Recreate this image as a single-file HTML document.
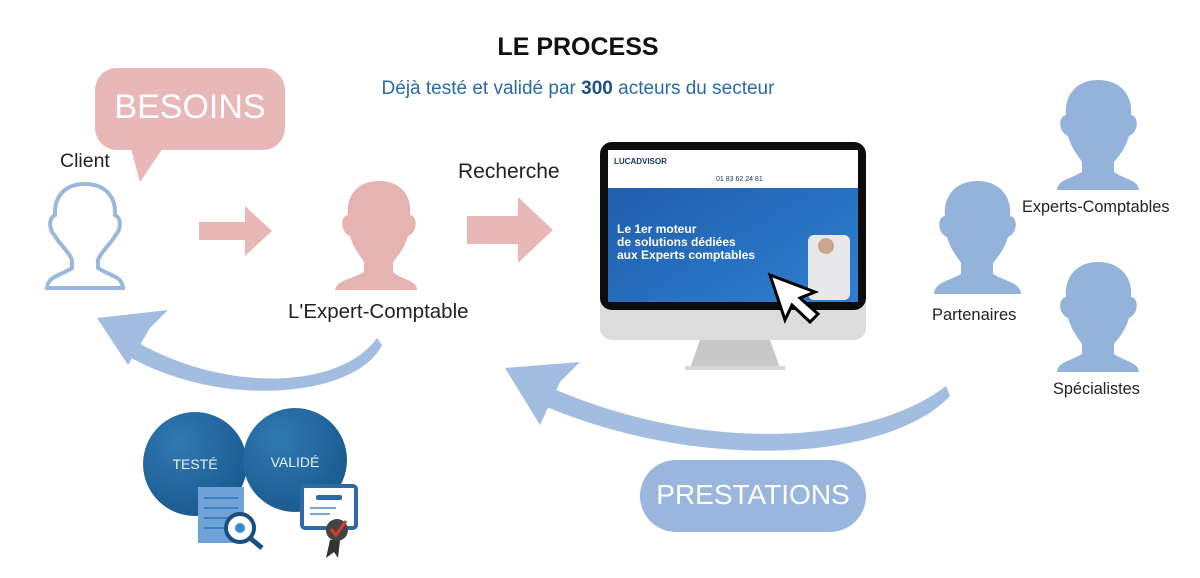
<!DOCTYPE html>
<html><head><meta charset="utf-8"><style>
body{margin:0;width:1200px;height:578px;background:#fff;position:relative;overflow:hidden;font-family:"Liberation Sans",sans-serif}
.t{position:absolute;white-space:nowrap}
</style></head><body>
<svg width="1200" height="578" style="position:absolute;left:0;top:0">
<defs>
<radialGradient id="g" cx="35%" cy="30%" r="75%"><stop offset="0" stop-color="#2f79b2"/><stop offset="1" stop-color="#1a5a8e"/></radialGradient>
<linearGradient id="scr" x1="0" y1="0" x2="1" y2="1"><stop offset="0" stop-color="#1d5aa8"/><stop offset="1" stop-color="#2f7fd0"/></linearGradient>
</defs>
<rect x="95" y="68" width="190" height="82" rx="22" fill="#e8b7b7"/>
<polygon points="130,145 165,145 140,182" fill="#e8b7b7"/>
<path d="M85,184 C62,184 54,200 55,215 C49,218 48,228 55,236 C60,245 68,250 72,260 L72,268 C60,276 48,276 47,288 L123,288 C122,276 110,276 98,268 L98,260 C102,250 110,245 115,236 C122,228 121,218 115,215 C116,200 108,184 85,184Z" fill="none" stroke="#9bb7dc" stroke-width="4"/>
<polygon points="199,222 245,222 245,206 272,231 245,256 245,240 199,240" fill="#e8b7b7"/>
<polygon points="467,216 518,216 518,197 553,230 518,263 518,244 467,244" fill="#e8b7b7"/>
<path d="M379,181 C357,181 346,196 348,215 C340,216 340,232 350,236 C354,250 362,258 364,262 L364,272 C350,280 337,280 335,290 L417,290 C417,280 402,280 393,272 L393,262 C396,258 404,250 408,236 C418,232 418,216 410,215 C412,196 401,181 379,181Z" fill="#e6b3b3"/>
<g fill="#94b3db">
<path d="M977,181 C955,181 943,197 945,216 C937,217 937,233 947,237 C951,251 959,259 961,263 L961,274 C947,282 935,282 934,294 L1021,294 C1020,282 1006,282 993,274 L993,263 C996,259 1004,251 1008,237 C1018,233 1018,217 1010,216 C1012,197 1000,181 977,181Z"/>
<path d="M1098,80 C1076,80 1064,96 1066,115 C1058,116 1058,132 1068,136 C1072,150 1080,158 1082,162 L1082,172 C1068,180 1058,180 1057,190 L1139,190 C1138,180 1126,180 1114,172 L1114,162 C1117,158 1125,150 1129,136 C1139,132 1139,116 1131,115 C1133,96 1121,80 1098,80Z"/>
<path d="M1098,262 C1076,262 1064,278 1066,297 C1058,298 1058,314 1068,318 C1072,332 1080,340 1082,344 L1082,354 C1068,362 1058,362 1057,372 L1139,372 C1138,362 1126,362 1114,354 L1114,344 C1117,340 1125,332 1129,318 C1139,314 1139,298 1131,297 C1133,278 1121,262 1098,262Z"/>
</g>
<path d="M377,338 C340,390 220,395 125,335 L118,350 C210,410 355,400 382,345Z" fill="#a3bde0"/>
<polygon points="97,318 168,310 150,328 128,365" fill="#a3bde0"/>
<path d="M946,386 C870,445 700,455 545,385 L535,402 C700,475 890,460 950,396Z" fill="#a3bde0"/>
<polygon points="505,368 580,362 560,382 540,425" fill="#a3bde0"/>
<rect x="640" y="460" width="226" height="72" rx="36" fill="#9bb6dc"/>
<rect x="600" y="142" width="266" height="198" rx="12" fill="#dcdcdc"/>
<rect x="600" y="142" width="266" height="168" rx="12" fill="#0c0c0c"/>
<rect x="608" y="150" width="250" height="152" fill="url(#scr)"/>
<rect x="608" y="150" width="250" height="38" fill="#fff"/>
<polygon points="700,340 770,340 780,368 690,368" fill="#c8c8c8"/>
<rect x="685" y="366" width="100" height="4" fill="#d8d8d8"/>
<rect x="808" y="235" width="42" height="65" rx="6" fill="#e8e8ea"/>
<circle cx="826" cy="246" r="8" fill="#c9a68a"/>
<polygon points="770,275 785,320 792,305 810,322 818,314 800,298 815,292" fill="#fff" stroke="#000" stroke-width="3"/>
<circle cx="195" cy="464" r="52" fill="url(#g)"/>
<circle cx="295" cy="460" r="52" fill="url(#g)"/>
<rect x="198" y="487" width="46" height="56" fill="#6fa3d8"/>
<g stroke="#3d7fc0" stroke-width="2"><line x1="204" y1="498" x2="238" y2="498"/><line x1="204" y1="508" x2="238" y2="508"/><line x1="204" y1="518" x2="238" y2="518"/><line x1="204" y1="528" x2="238" y2="528"/></g>
<circle cx="240" cy="528" r="14" fill="#fff" stroke="#1a4f80" stroke-width="4"/>
<circle cx="240" cy="528" r="5" fill="#3a8ad0"/>
<line x1="250" y1="538" x2="262" y2="548" stroke="#1a4f80" stroke-width="5"/>
<rect x="302" y="486" width="54" height="42" rx="3" fill="#fff" stroke="#2e6aa6" stroke-width="4"/>
<rect x="316" y="495" width="26" height="5" rx="2" fill="#2e6aa6"/>
<line x1="310" y1="508" x2="336" y2="508" stroke="#7aa8d6" stroke-width="2"/>
<line x1="310" y1="514" x2="330" y2="514" stroke="#7aa8d6" stroke-width="2"/>
<polygon points="330,540 326,558 334,552 338,558 340,540" fill="#333"/>
<circle cx="337" cy="530" r="11" fill="#444"/>
<path d="M331,529 L336,535 L346,521" stroke="#e03a2a" stroke-width="3" fill="none"/>
</svg>
<div class="t" style="left:0;width:1156px;text-align:center;top:33px;font-size:25px;font-weight:bold;color:#111">LE PROCESS</div>
<div class="t" style="left:0;width:1156px;text-align:center;top:78px;font-size:19px;color:#2a6aa5">Déjà testé et validé par <b style="color:#1d4f86">300</b> acteurs du secteur</div>
<div class="t" style="left:95px;width:190px;text-align:center;top:88px;font-size:34px;color:#fff">BESOINS</div>
<div class="t" style="left:60px;top:150px;font-size:19.5px;color:#222">Client</div>
<div class="t" style="left:288px;top:300px;font-size:20.5px;color:#222">L'Expert-Comptable</div>
<div class="t" style="left:458px;top:160px;font-size:21px;color:#222">Recherche</div>
<div class="t" style="left:1022px;top:198px;font-size:16.3px;color:#222">Experts-Comptables</div>
<div class="t" style="left:932px;top:306px;font-size:16.5px;color:#222">Partenaires</div>
<div class="t" style="left:1053px;top:380px;font-size:16.3px;color:#222">Spécialistes</div>
<div class="t" style="left:640px;width:226px;text-align:center;top:479px;font-size:28px;color:#fff">PRESTATIONS</div>
<div class="t" style="left:143px;width:104px;text-align:center;top:456px;font-size:14px;color:#e8f0f8">TESTÉ</div>
<div class="t" style="left:243px;width:104px;text-align:center;top:454px;font-size:14px;color:#e8f0f8">VALIDÉ</div>
<div class="t" style="left:614px;top:157px;font-size:8px;font-weight:bold;color:#1d3a66">LUCADVISOR</div>
<div class="t" style="left:716px;top:176px;font-size:7px;color:#1d3a66">01 83 62 24 81</div>
<div class="t" style="left:617px;top:223px;font-size:12px;font-weight:bold;color:#fff;line-height:13px">Le 1er moteur<br>de solutions dédiées<br>aux Experts comptables</div>
</body></html>
